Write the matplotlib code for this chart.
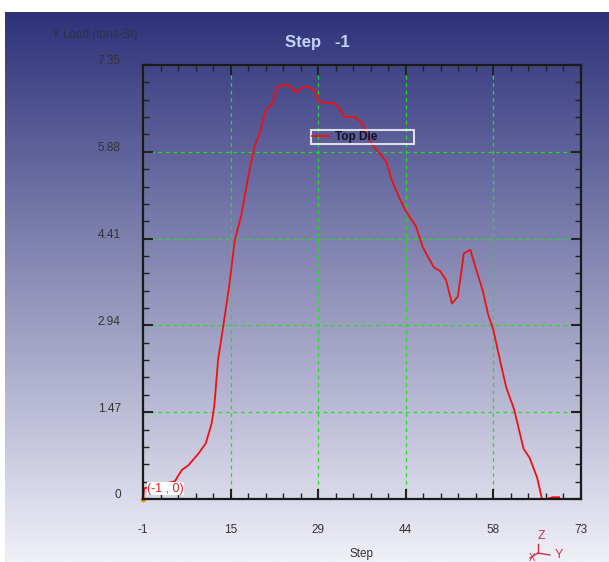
import matplotlib.pyplot as plt
import numpy as np
from matplotlib.transforms import ScaledTranslation
from matplotlib.lines import Line2D

plt.rcParams['font.family'] = ['Liberation Sans', 'DejaVu Sans']

# load curve
step = [-1, -0.8, 4.37, 5.55, 6.66, 8.3, 9.6, 10.6, 11.05, 11.7, 12.55, 13.54, 14.5,
        15.6, 16.8, 17.8, 18.8, 19.8, 20.7, 21.7, 23.0, 23.9, 24.8, 25.65, 26.6,
        27.95, 28.7, 29.6, 31.2, 32.0, 33.0, 34.8, 36.1, 36.8, 37.8, 39.1, 40.1,
        41.0, 42.4, 43.3, 44.3, 45.1, 46.3, 47.3, 48.2, 49.2, 50.2, 51.2, 52.2,
        53.2, 54.3, 55.1, 56.4, 57.3, 58.2, 59.4, 60.4, 61.7, 63.3, 64.3, 65.6,
        66.4, 67.2, 68.2, 69.3]
load = [0.0, 0.18, 0.3, 0.49, 0.57, 0.76, 0.94, 1.28, 1.58, 2.37, 2.92, 3.59, 4.38,
        4.80, 5.47, 5.96, 6.23, 6.60, 6.67, 6.98, 7.02, 6.99, 6.88, 6.96, 6.99,
        6.93, 6.73, 6.71, 6.70, 6.64, 6.47, 6.47, 6.35, 6.17, 5.99, 5.84, 5.71,
        5.41, 5.08, 4.89, 4.74, 4.62, 4.26, 4.07, 3.92, 3.86, 3.71, 3.31, 3.43,
        4.16, 4.22, 3.95, 3.53, 3.13, 2.86, 2.31, 1.88, 1.52, 0.85, 0.70, 0.36,
        0.0, 0.0, 0.03, 0.03]

x_labels = ['-1', '15', '29', '44', '58', '73']
y_ticks = [0, 1.47, 2.94, 4.41, 5.88, 7.35]
y_labels = ['0', '1.47', '2.94', '4.41', '5.88', '7.35']

W, H = 609, 562
fig = plt.figure(figsize=(W / 100, H / 100), dpi=100)

# gradient background (white strip on top and left)
bg = fig.add_axes([5 / W, 0, 1 - 5 / W, (H - 12) / H])
top = np.array([46, 50, 122]) / 255
bot = np.array([240, 240, 248]) / 255
t = np.linspace(0, 1, 256)[:, None]
grad = top + (bot - top) * t
bg.imshow(grad[:, None, :], aspect='auto', extent=[0, 1, 1, 0])
bg.set_axis_off()

ax = fig.add_axes([143 / W, (H - 499) / H, 438 / W, 434 / H])
ax.patch.set_alpha(0)

ax.plot(step, load, color='#ee1111', lw=1.3, label='Top Die')
ax.plot([-1], [0], 'o', color='#ff8800', ms=3, clip_on=False)

ax.set_xlim(-1, 73)
ax.set_ylim(0, 7.35)
xt = np.linspace(-1, 73, 6)
ax.set_xticks(xt)
ax.set_xticklabels(x_labels)
ax.set_xticks(np.linspace(-1, 73, 26), minor=True)
ax.set_yticks(y_ticks)
ax.set_yticklabels(y_labels)
ax.set_yticks(np.linspace(0, 7.35, 26), minor=True)

ax.tick_params(which='both', direction='in', top=True, right=True,
               colors='#222222', labelcolor='#333333', labelsize=8.5)
ax.tick_params(which='major', length=7, width=1.5)
ax.tick_params(which='minor', length=4, width=1)
ax.tick_params(axis='x', pad=18)
ax.tick_params(axis='y', pad=16)
for lab in ax.get_yticklabels():
    lab.set_transform(lab.get_transform() + ScaledTranslation(0, 5 / 100, fig.dpi_scale_trans))

for s in ax.spines.values():
    s.set_linewidth(1.6)
    s.set_color('#1a1a1a')

ax.grid(True, which='major', color='#22dd22', ls=(0, (3, 3)), lw=0.9)

leg = ax.legend(loc='center', bbox_to_anchor=(0.384, 0.818, 0.235, 0.032),
                mode='expand', frameon=True, fancybox=False,
                prop={'weight': 'bold', 'size': 8.5},
                handlelength=1.4, borderpad=0.1, handletextpad=0.5, borderaxespad=0)
leg.get_frame().set_facecolor('none')
leg.get_frame().set_edgecolor('white')
leg.get_frame().set_linewidth(1.5)
for txt in leg.get_texts():
    txt.set_color('#111122')

ax.annotate('(-1 , 0)', xy=(-1, 0), xytext=(3, 3), textcoords='offset points',
            color='#dd2222', fontsize=9, ha='left', va='bottom',
            bbox=dict(boxstyle='square,pad=0.05', fc='white', ec='none'))

fig.text(317 / W, 1 - 43 / H, 'Step   -1', ha='center', va='center',
         fontsize=12, fontweight='bold', color='#c4d4f4')
fig.text(95 / W, 1 - 35 / H, 'Y Load (tons-SI)', ha='center', va='center',
         fontsize=8.5, color='#303040')
ax.set_xlabel('Step', fontsize=8.5, color='#333333', labelpad=9)

# axis triad, bottom right
px = lambda x, y: (x / W, 1 - y / H)
tri = '#cc3344'
for (a, b) in [((538, 544), (538, 553)), ((538, 553), (550, 555)), ((538, 553), (530, 558))]:
    (x0, y0), (x1, y1) = px(*a), px(*b)
    fig.add_artist(Line2D([x0, x1], [y0, y1], color=tri, lw=1))
fig.text(*px(541, 536), 'Z', color=tri, fontsize=9, ha='center', va='center')
fig.text(*px(559, 555), 'Y', color=tri, fontsize=9, ha='center', va='center')
fig.text(*px(532, 558), 'X', color=tri, fontsize=7, ha='center', va='center')

fig.savefig('out.png', dpi=100)
